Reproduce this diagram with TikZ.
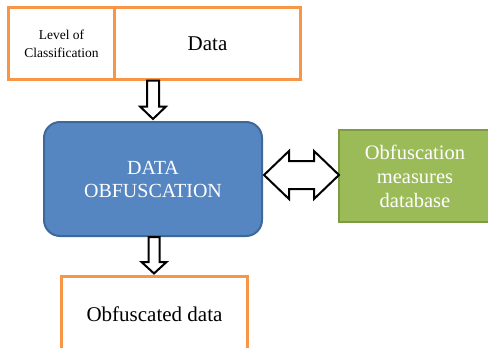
\documentclass[tikz,border=0pt]{standalone}
\usepackage{fontspec}
\setmainfont{Liberation Serif}
\usetikzlibrary{calc}
\definecolor{orangeb}{HTML}{F79646}
\definecolor{bluef}{HTML}{5686C2}
\definecolor{blueb}{HTML}{3E6898}
\definecolor{greenf}{HTML}{9BBB59}
\definecolor{greenb}{HTML}{7C9B42}
\tikzset{
  obox/.style={draw=orangeb, line width=3pt, fill=white, outer sep=0pt, inner sep=0pt, align=center},
  bluebox/.style={draw=blueb, line width=2pt, fill=bluef, rounded corners=16pt, outer sep=0pt, inner sep=0pt, align=center, text=white},
  greenbox/.style={draw=greenb, line width=2.5pt, fill=greenf, outer sep=0pt, inner sep=0pt, align=center, text=white},
  blockarrow/.style={draw=black, line width=2pt, fill=white, line join=miter},
}
\begin{document}
\begin{tikzpicture}[x=1pt,y=-1pt]
\useasboundingbox (0,0) rectangle (488,348);
\fill[white] (0,0) rectangle (488,348);

\node[obox, minimum width=106pt, minimum height=72pt, anchor=north west,
      font=\fontsize{13.5}{18}\selectfont] (lvl) at (8.5,7.5) {Level of\\Classification};
\node[obox, minimum width=186pt, minimum height=72pt, anchor=north west,
      font=\fontsize{21}{24}\selectfont] (data) at (114.5,7.5) {Data};

\node[bluebox, minimum width=218pt, minimum height=114pt, anchor=north west,
      font=\fontsize{20}{23}\selectfont] (dobf) at (44,122) {DATA\\OBFUSCATION};

\node[greenbox, minimum width=152pt, minimum height=92pt, anchor=north west,
      font=\fontsize{20.5}{24}\selectfont] (meas) at (339,130) {Obfuscation\\measures\\database};

\node[obox, minimum width=186pt, minimum height=76pt, anchor=north west,
      font=\fontsize{21}{24}\selectfont] (out) at (61.5,276.5) {Obfuscated data};

% top block arrow: data -> obfuscation
\coordinate (a1) at (dobf.north |- data.south);
\draw[blockarrow] ($(a1)+(-6,1)$) -- ($(a1)+(6,1)$) -- ($(a1)+(6,27)$) -- ($(a1)+(13,27)$)
  -- ($(dobf.north)+(0,-3)$) -- ($(a1)+(-13,27)$) -- ($(a1)+(-6,27)$) -- cycle;

% bottom block arrow: obfuscation -> obfuscated data
\coordinate (a2) at ($(dobf.south)+(1,1)$);
\draw[blockarrow] ($(a2)+(-5.5,0)$) -- ($(a2)+(5.5,0)$) -- ($(a2)+(5.5,25)$) -- ($(a2)+(12.5,25)$)
  -- ($(out.north -| a2)+(0,-3)$) -- ($(a2)+(-12.5,25)$) -- ($(a2)+(-5.5,25)$) -- cycle;

% double block arrow: obfuscation <-> measures database
\coordinate (bl) at ($(dobf.east)+(2,-4)$);
\coordinate (br) at ($(meas.west)+(0,-1)$);
\draw[blockarrow] (bl) -- ($(bl)+(25,-24)$) -- ($(bl)+(25,-14)$) -- ($(br)+(-25,-14)$)
  -- ($(br)+(-25,-24)$) -- (br) -- ($(br)+(-25,24)$) -- ($(br)+(-25,14)$)
  -- ($(bl)+(25,14)$) -- ($(bl)+(25,24)$) -- cycle;
\end{tikzpicture}
\end{document}
